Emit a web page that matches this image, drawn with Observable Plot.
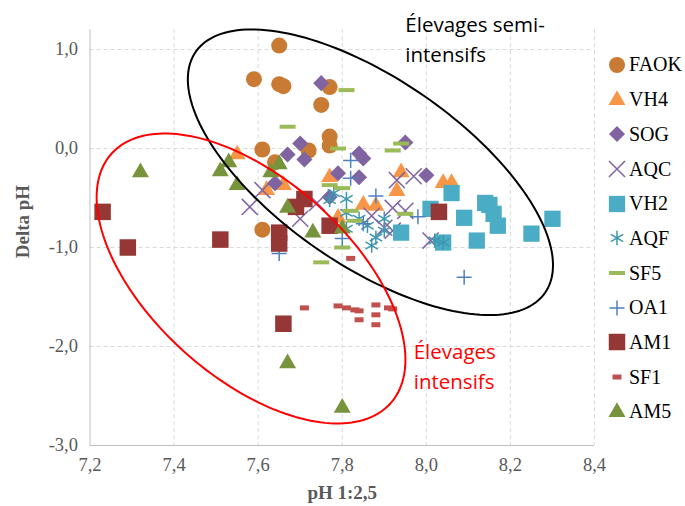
<!DOCTYPE html>
<html><head><meta charset="utf-8">
<script src="https://cdn.jsdelivr.net/npm/d3@7"></script>
<script src="https://cdn.jsdelivr.net/npm/@observablehq/plot@0.6"></script>
<style>
body{margin:0;background:#fff;}
#wrap{position:relative;width:685px;height:506px;overflow:hidden;}
#legend{position:absolute;left:605px;top:47.6px;font-family:"Liberation Serif","Times New Roman",serif;font-size:20px;color:#000;}
.item{height:34.7px;display:flex;align-items:center;white-space:nowrap;}
.item svg{width:24px;height:24px;margin-right:0px;}
</style></head><body><div id="wrap"><div id="legend"></div></div>
<script>
const xTicks = [7.2, 7.4, 7.6, 7.8, 8.0, 8.2, 8.4];
const yTicks = [-3, -2, -1, 0, 1];

const FAOK = [[7.65,1.04],[7.59,0.70],[7.65,0.65],[7.66,0.63],[7.77,0.62],[7.75,0.44],[7.77,0.12],[7.77,0.03],[7.61,-0.01],[7.72,-0.02],[7.64,-0.14],[7.61,-0.82]];
const VH4 = [[7.55,-0.06],[7.62,-0.42],[7.66,-0.37],[7.77,-0.29],[7.94,-0.24],[7.93,-0.43],[8.04,-0.35],[8.06,-0.35],[7.85,-0.57],[7.88,-0.58],[7.79,-0.70]];
const SOG = [[7.75,0.66],[7.70,0.05],[7.67,-0.06],[7.71,-0.11],[7.64,-0.35],[7.84,-0.05],[7.85,-0.10],[7.79,-0.25],[7.84,-0.29],[7.95,0.06],[8.00,-0.27],[7.77,-0.49]];
const AQC = [[7.58,-0.59],[7.61,-0.42],[7.70,-0.71],[7.74,-0.55],[7.93,-0.32],[7.97,-0.28],[7.92,-0.60],[7.95,-0.63],[7.90,-0.80],[7.92,-0.83],[8.01,-0.93],[7.87,-0.68]];
const VH2 = [[8.06,-0.45],[8.01,-0.61],[8.09,-0.70],[8.14,-0.55],[8.15,-0.57],[8.16,-0.66],[8.17,-0.78],[8.12,-0.93],[8.04,-0.95],[7.94,-0.85],[8.25,-0.86],[8.30,-0.71]];
const AQF = [[7.78,-0.45],[7.81,-0.51],[7.81,-0.65],[7.84,-0.71],[7.81,-0.81],[7.86,-0.78],[7.88,-0.90],[7.87,-0.98],[7.90,-0.71],[7.90,-0.83],[8.02,-0.93],[8.04,-0.95],[7.77,-0.52]];
const SF5 = [[7.81,0.59],[7.67,0.22],[7.79,0.00],[7.92,-0.02],[7.94,0.05],[7.77,-0.37],[7.80,-0.40],[7.82,-0.63],[7.83,-0.73],[7.95,-0.66],[7.80,-1.00],[7.75,-1.15]];
const OA1 = [[7.82,-0.12],[7.82,-0.30],[7.88,-0.48],[7.85,-0.76],[7.98,-0.69],[7.80,-0.91],[7.65,-1.06],[8.09,-1.30]];
const AM1 = [[7.23,-0.64],[7.29,-1.00],[7.51,-0.92],[7.65,-0.85],[7.65,-0.96],[7.66,-1.77],[7.77,-0.78],[7.71,-0.51],[7.69,-0.59],[8.03,-0.64]];
const SF1 = [[7.71,-1.61],[7.79,-1.59],[7.81,-1.61],[7.83,-1.63],[7.84,-1.64],[7.84,-1.73],[7.88,-1.58],[7.88,-1.68],[7.88,-1.78],[7.91,-1.61],[7.92,-1.62],[7.82,-1.11]];
const AM5 = [[7.32,-0.24],[7.51,-0.23],[7.53,-0.14],[7.55,-0.37],[7.63,-0.24],[7.65,-0.16],[7.67,-0.60],[7.73,-0.85],[7.80,-0.81],[7.67,-2.17],[7.80,-2.62]];

const seriesNames = ["FAOK","VH4","SOG","AQC","VH2","AQF","SF5","OA1","AM1","SF1","AM5"];
const seriesData = [FAOK,VH4,SOG,AQC,VH2,AQF,SF5,OA1,AM1,SF1,AM5];

// annotation ellipses (centre and half-axis vectors, in data units)
const ellipseSemi = {cx:7.867, cy:-0.24, ax:0.415, ay:-1.22, bx:-0.128, by:-0.77};
const ellipseIntensif = {cx:7.583, cy:-1.313, ax:0.332, ay:-1.260, bx:-0.157, by:-0.747};
const labelSemi = ["Élevages semi-", "intensifs"];
const labelIntensif = ["Élevages", "intensifs"];

const dash = (w, h) => ({draw(ctx){ctx.moveTo(-w/2,-h/2);ctx.lineTo(w/2,-h/2);ctx.lineTo(w/2,h/2);ctx.lineTo(-w/2,h/2);ctx.closePath();}});
const styles = {
  FAOK:{symbol:d3.symbolCircle, size:201, fill:"#C97A33"},
  VH4:{symbol:d3.symbolTriangle, size:125, fill:"#F79646"},
  SOG:{symbol:d3.symbolDiamond2, size:165, fill:"#8064A2"},
  AQC:{symbol:d3.symbolTimes, size:170, stroke:"#8064A2"},
  VH2:{symbol:d3.symbolSquare, size:265, fill:"#4BACC6"},
  AQF:{symbol:d3.symbolAsterisk, size:145, stroke:"#3D96AE"},
  SF5:{symbol:dash(16,4), size:100, fill:"#9BBB59"},
  OA1:{symbol:d3.symbolPlus, size:76, stroke:"#4F81BD"},
  AM1:{symbol:d3.symbolSquare, size:272, fill:"#953735"},
  SF1:{symbol:dash(9,5), size:100, fill:"#C0504D"},
  AM5:{symbol:d3.symbolTriangle, size:125, fill:"#77933C"}
};

function ellipsePoints(e){
  return d3.range(0, 360, 2).map(deg => {
    const t = deg * Math.PI / 180;
    return {x: e.cx + e.ax*Math.cos(t) + e.bx*Math.sin(t), y: e.cy + e.ay*Math.cos(t) + e.by*Math.sin(t)};
  });
}

const fmt = d => d.toFixed(1).replace(".", ",");
const gridStyle = {stroke:"#D9D9D9", strokeDasharray:"4,3", strokeWidth:1};
const marks = [
  Plot.ruleX(xTicks.slice(1), gridStyle),
  Plot.ruleY(yTicks.slice(1), gridStyle),
  Plot.ruleX([xTicks[0]], {stroke:"#BFBFBF"}),
  Plot.ruleY([yTicks[0]], {stroke:"#BFBFBF"})
];
seriesNames.forEach((n, i) => {
  const s = styles[n];
  const rows = seriesData[i].map(([x, y]) => ({x, y}));
  marks.push(Plot.dot(rows, {
    x:"x", y:"y", symbol:s.symbol, r:Math.sqrt(s.size/Math.PI),
    fill:s.fill || "none", stroke:s.stroke || "none", strokeWidth:s.stroke ? 1.5 : 0
  }));
});
marks.push(Plot.line(ellipsePoints(ellipseSemi), {x:"x", y:"y", stroke:"#000", strokeWidth:2, curve:"linear-closed"}));
marks.push(Plot.line(ellipsePoints(ellipseIntensif), {x:"x", y:"y", stroke:"#FF0000", strokeWidth:2, curve:"linear-closed"}));
marks.push(Plot.text([{t:labelSemi[0], x:7.95, y:1.24},{t:labelSemi[1], x:7.95, y:0.94}], {x:"x", y:"y", text:"t", fill:"#000", textAnchor:"start", fontSize:20.5, fontFamily:"Open Sans"}));
marks.push(Plot.text([{t:labelIntensif[0], x:7.97, y:-2.06},{t:labelIntensif[1], x:7.97, y:-2.36}], {x:"x", y:"y", text:"t", fill:"#FF0000", textAnchor:"start", fontSize:20.5, fontFamily:"Open Sans"}));
marks.push(Plot.text(["pH 1:2,5"], {frameAnchor:"bottom", dy:47, lineAnchor:"middle", textAnchor:"middle", fontWeight:"bold", fontSize:19, fill:"#595959"}));
marks.push(Plot.text(["Delta pH"], {frameAnchor:"left", dx:-67, dy:-16, rotate:-90, textAnchor:"middle", lineAnchor:"middle", fontWeight:"bold", fontSize:19, fill:"#595959"}));

const chart = Plot.plot({
  width:685, height:506,
  marginLeft:89.5, marginRight:91, marginTop:29.2, marginBottom:61,
  style:{fontFamily:"'Liberation Serif','Times New Roman',serif", fontSize:"18.5px", color:"#595959", background:"white", overflow:"visible"},
  x:{domain:[7.2, 8.4], ticks:xTicks, tickFormat:fmt, tickSize:0, tickPadding:12, label:null},
  y:{domain:[-3, 1.2], ticks:yTicks, tickFormat:fmt, tickSize:0, tickPadding:12, label:null},
  marks
});
document.getElementById("wrap").prepend(chart);

const legend = d3.select("#legend");
seriesNames.forEach(n => {
  const s = styles[n];
  const item = legend.append("div").attr("class","item");
  const svg = item.append("svg").attr("viewBox","-12 -12 24 24");
  svg.append("path").attr("d", d3.symbol(s.symbol, s.size)())
    .attr("fill", s.fill || "none").attr("stroke", s.stroke || "none").attr("stroke-width", s.stroke ? 1.5 : 0);
  item.append("span").text(n);
});
</script></body></html>
